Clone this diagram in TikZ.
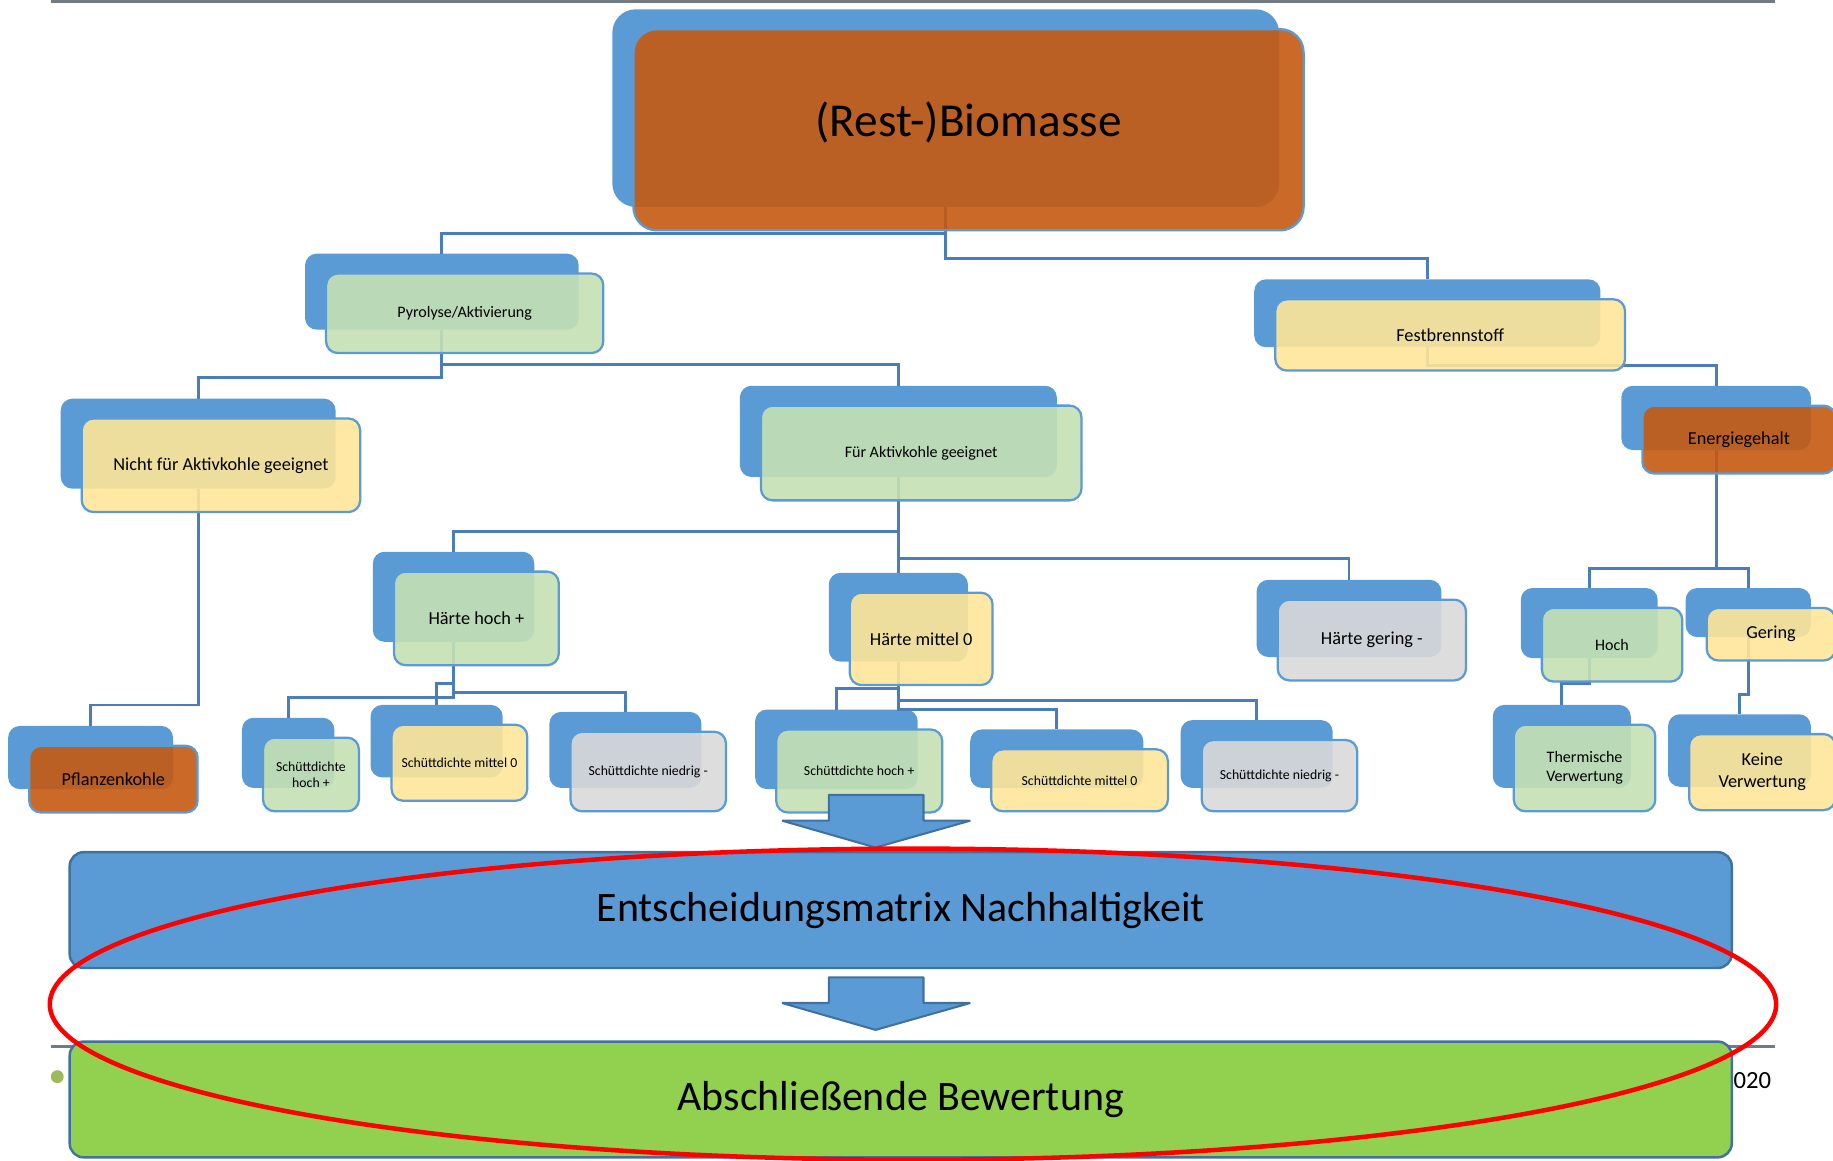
\documentclass[tikz,border=0pt]{standalone}
\usepackage{fontspec}
\setmainfont{Carlito}
\usetikzlibrary{calc}
\definecolor{boxblue}{HTML}{5B9BD5}
\definecolor{lineblue}{HTML}{4A7EBB}
\definecolor{edgeblue}{HTML}{41719C}
\definecolor{rulegray}{HTML}{717A85}
\definecolor{cOr}{HTML}{C55A11}
\definecolor{cGr}{HTML}{C5E0B4}
\definecolor{cYe}{HTML}{FFE699}
\definecolor{cGy}{HTML}{D9D9D9}
\definecolor{matgreen}{HTML}{92D050}
\definecolor{dotgreen}{HTML}{9BBB59}
\newcommand\szA{\fontsize{11.5}{13.5}\selectfont}
\newcommand\szB{\fontsize{4.45}{5.4}\selectfont}
\newcommand\szC{\fontsize{3.9}{4.6}\selectfont}
\newcommand\szD{\fontsize{3.35}{3.8}\selectfont}
\begin{document}
\begin{tikzpicture}[x=0.01cm,y=-0.01cm,
    back/.style={fill=boxblue,inner sep=0pt,outer sep=0pt},
    front/.style={draw=boxblue,line width=.55pt,fill=#1,fill opacity=.9,
      text opacity=1,inner sep=0pt,outer sep=0pt,align=center},
    conn/.style={lineblue,line width=.7pt},
    arrowbox/.style={fill=boxblue,draw=edgeblue,line width=.5pt,line join=bevel},
    bigbar/.style={draw=edgeblue,line width=.6pt,rounded corners=1.2mm,inner sep=0pt,
      minimum width=14.21cm,minimum height=.99cm,font=\fontsize{10.2}{12}\selectfont}]
  \useasboundingbox (0,0) rectangle (1568,993);
  \draw[rulegray,line width=.85pt] (44,1)--(1518,1) (44,895)--(1518,895);
  % name/x/y/width/height/corner/colour/font/text
  \def\boxlist{bio/809/92.5/570/169/2/cOr/\szA/{\raisebox{1.8mm}{(Rest-)Biomasse}},
    pyro/378/249.5/234/65/1/cGr/\szC/{Pyrolyse/Aktivierung},
    fest/1221/268/296/58/1/cYe/\szB/Festbrennstoff,
    nicht/169.5/379.5/235/77/1/cYe/\szB/{Nicht für Aktivkohle geeignet},
    fuer/768.5/369/271/78/1/cGr/\szC/{Für Aktivkohle geeignet},
    energie/1468/357.5/162/55/1/cOr/\szB/Energiegehalt,
    pflanz/77.5/648/141/54/1/cOr/\szB/Pflanzenkohle,
    hh/388/510.5/138/77/1/cGr/\szB/{Härte hoch +},
    hm/768.5/528/119/76/1/cYe/\szB/{Härte mittel 0},
    hg/1154/529/158/66/1/cGy/\szB/{Härte gering -},
    hoch/1359.5/533/117/60/1/cGr/\szC/Hoch,
    gering/1495.5/524/107/42/1/cYe/\szB/Gering,
    therm/1336/638.5/118/71/1/cGr/\szC/{Thermische\\Verwertung},
    keine/1488/642/122/62/1/cYe/\szB/{Keine\\Verwertung},
    s1/246.5/644/79/60/1/cGr/\szD/{Schüttdichte\\hoch +},
    s2/373.5/634/113/62/1/cYe/\szD/{Schüttdichte mittel 0},
    s3/535/641.5/130/65/1/cGy/\szD/{Schüttdichte niedrig -},
    s4/715.5/641/139/68/1/cGr/\szD/{Schüttdichte hoch +},
    s5/904/649/148/50/1/cYe/\szD/{Schüttdichte mittel 0},
    s6/1075/645/130/58/1/cGy/\szD/{Schüttdichte niedrig -}}
  \foreach \n/\x/\y/\w/\h/\r/\c/\f/\t in \boxlist
    \node[back,rounded corners=\r mm,minimum width=\w*0.1mm,minimum height=\h*0.1mm]
      (\n) at (\x,\y) {};
  \foreach \a/\b/\d in {bio/pyro/23,bio/fest/44,pyro/fuer/30,pyro/nicht/41,
      fest/energie/16,nicht/pflanz/185,fuer/hh/47,fuer/hm/20,fuer/hg/70,
      energie/hoch/101,energie/gering/101,hh/s1/48,hh/s2/36,hh/s3/43,
      hm/s4/23,hm/s5/41,hm/s6/33,hoch/therm/22,gering/keine/49}
    \draw[conn] (\a.south) -- ++(0,\d) -| (\b.north);
  \foreach \n/\x/\y/\w/\h/\r/\c/\f/\t in \boxlist
    \node[front=\c,font=\f,rounded corners=\r mm,minimum width=(\w+3)*0.1mm,
      minimum height=(\h+3)*0.1mm] (\n-f) at ([shift={(19.5,18.5)}]\n.center) {\t};
  \foreach \y in {680,836}
    \draw[arrowbox] (709,\y) -- ++(81,0) -- ++(0,22) -- ++(40,0) -- ++(-81,23)
      -- ++(-80,-23) -- ++(40,0) -- cycle;
  \node[bigbar,fill=boxblue] (entsch) at (770.5,778.5) {Entscheidungsmatrix Nachhaltigkeit};
  \node[bigbar,fill=matgreen] (bewert) at (770.5,940.5) {Abschließende Bewertung};
  \fill[dotgreen] (49,921) circle (0.55mm);
  \node[font=\fontsize{6}{7}\selectfont,inner sep=0pt] (jahr) at (1499,924) {020};
  \draw[red,line width=1.1pt] (781,859) ellipse [x radius=7.38cm,y radius=1.33cm];
\end{tikzpicture}
\end{document}
